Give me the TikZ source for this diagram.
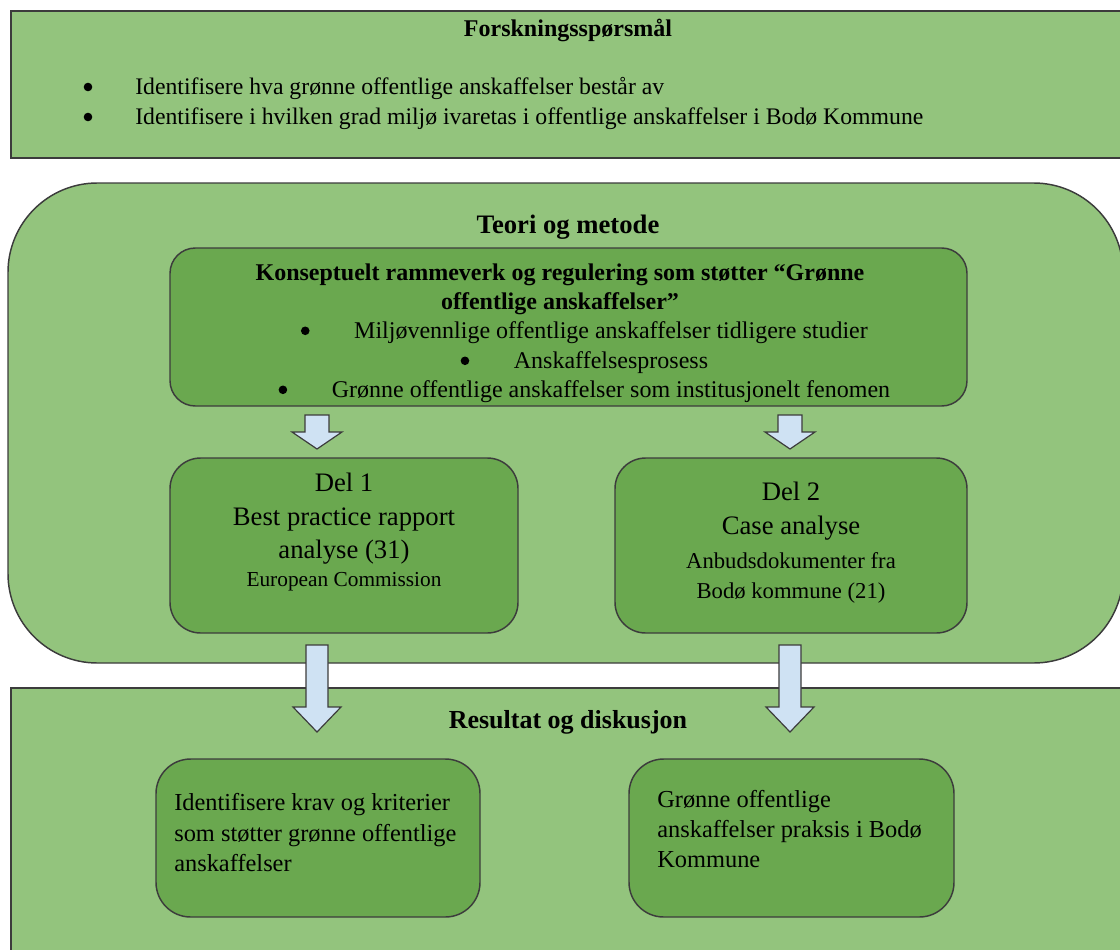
\documentclass[tikz,border=0pt]{standalone}
\usepackage{fontspec}
\setmainfont{Liberation Serif}
\usetikzlibrary{fit,calc}
\definecolor{lightgreen}{HTML}{93C47D}
\definecolor{darkgreen}{HTML}{6AA84F}
\definecolor{arrowblue}{HTML}{CFE2F3}
\definecolor{bordergray}{HTML}{3C3C3C}
\tikzset{
  panel/.style={draw=bordergray, line width=1.1pt, fill=lightgreen, inner sep=0pt},
  subbox/.style={draw=bordergray, line width=1.1pt, fill=darkgreen, inner sep=0pt},
  blockarrow/.style={draw=bordergray, line width=0.9pt, fill=arrowblue, line join=miter},
  txt/.style={inner sep=0pt, anchor=base, font=\fontsize{18}{22}\selectfont},
  txtl/.style={inner sep=0pt, anchor=base west, font=\fontsize{18.3}{22}\selectfont},
  head/.style={inner sep=0pt, anchor=base, font=\fontsize{18}{22}\selectfont\bfseries},
  big/.style={inner sep=0pt, anchor=base, font=\fontsize{20}{24}\selectfont},
  mid/.style={inner sep=0pt, anchor=base, font=\fontsize{17}{21}\selectfont},
  small/.style={inner sep=0pt, anchor=base, font=\fontsize{16}{20}\selectfont},
  bulletdot/.style={fill=black}
}
\newcommand{\barrowdraw}[5]{%
  \draw[blockarrow] (#1-#5,#2) -- (#1+#5,#2) -- (#1+#5,#3) -- (#1+#5+13,#3) -- (#1,#4)
    -- (#1-#5-13,#3) -- (#1-#5,#3) -- cycle;}
\begin{document}
\begin{tikzpicture}[x=0.75pt,y=-0.75pt]
\useasboundingbox (0,0) rectangle (1120,949);
\clip (0,0) rectangle (1120,949);

% ---- Forskningsspørsmål ----
\node[panel, fit={(11,11) (1130,158)}] (rq) {};
\node[head] (rqtitle) at (568,37) {Forskningsspørsmål};
\node[txtl, font=\fontsize{17.8}{22}\selectfont] (rq1) at (135,94) {Identifisere hva grønne offentlige anskaffelser består av};
\node[txtl, font=\fontsize{17.8}{22}\selectfont] (rq2) at (135,124) {Identifisere i hvilken grad miljø ivaretas i offentlige anskaffelser i Bodø Kommune};
\fill[bulletdot] (88,87) circle (4.3);
\fill[bulletdot] (88,117) circle (4.3);

% ---- Teori og metode ----
\node[panel, rounded corners=67pt, fit={(8,183) (1123,663)}] (tm) {};
\node[head, font=\fontsize{20}{24}\selectfont\bfseries] (tmtitle) at (568,233) {Teori og metode};

\node[subbox, rounded corners=19pt, fit={(170,248) (967,406)}] (frame) {};
\node[head] (fr1) at (560,280) {Konseptuelt rammeverk og regulering som støtter “Grønne};
\node[head] (fr2) at (560,309) {offentlige anskaffelser”};
\node[txt] (fr3) at (611,338) {Miljøvennlige offentlige anskaffelser tidligere studier};
\node[txt] (fr4) at (611,368) {Anskaffelsesprosess};
\node[txt] (fr5) at (611,397) {Grønne offentlige anskaffelser som institusjonelt fenomen};
\fill[bulletdot] ([xshift=-36.5pt,yshift=5.4pt]fr3.base west) circle (4.3);
\fill[bulletdot] ([xshift=-36.5pt,yshift=5.4pt]fr4.base west) circle (4.3);
\fill[bulletdot] ([xshift=-36.5pt,yshift=5.4pt]fr5.base west) circle (4.3);

\node[subbox, rounded corners=23pt, fit={(170,458) (518,633)}] (del1) {};
\node[big] (d1a) at (344,491) {Del 1};
\node[big] (d1b) at (344,525) {Best practice rapport};
\node[big] (d1c) at (344,558) {analyse (31)};
\node[small] (d1d) at (344,586) {European Commission};

\node[subbox, rounded corners=23pt, fit={(615,458) (967,633)}] (del2) {};
\node[big] (d2a) at (791,500) {Del 2};
\node[big] (d2b) at (791,534) {Case analyse};
\node[mid] (d2c) at (791,568) {Anbudsdokumenter fra};
\node[mid] (d2d) at (791,598) {Bodø kommune (21)};

% ---- Resultat og diskusjon ----
\node[panel, fit={(11,688) (1130,960)}] (rd) {};
\node[head, font=\fontsize{19.5}{24}\selectfont\bfseries] (rdtitle) at (568,728) {Resultat og diskusjon};

\node[subbox, rounded corners=26pt, fit={(156,759) (480,917)}] (res1) {};
\node[txtl] (r1a) at (174,810) {Identifisere krav og kriterier};
\node[txtl] (r1b) at (174,841) {som støtter grønne offentlige};
\node[txtl] (r1c) at (174,871) {anskaffelser};

\node[subbox, rounded corners=26pt, fit={(629,759) (954,917)}] (res2) {};
\node[txtl] (r2a) at (657,807) {Grønne offentlige};
\node[txtl] (r2b) at (657,837) {anskaffelser praksis i Bodø};
\node[txtl] (r2c) at (657,867) {Kommune};

% ---- block arrows ----
\barrowdraw{317}{415}{432}{449}{12}
\barrowdraw{790}{415}{432}{449}{12}
\barrowdraw{317}{645}{707}{732}{11}
\barrowdraw{790}{645}{707}{732}{11}
\end{tikzpicture}
\end{document}
